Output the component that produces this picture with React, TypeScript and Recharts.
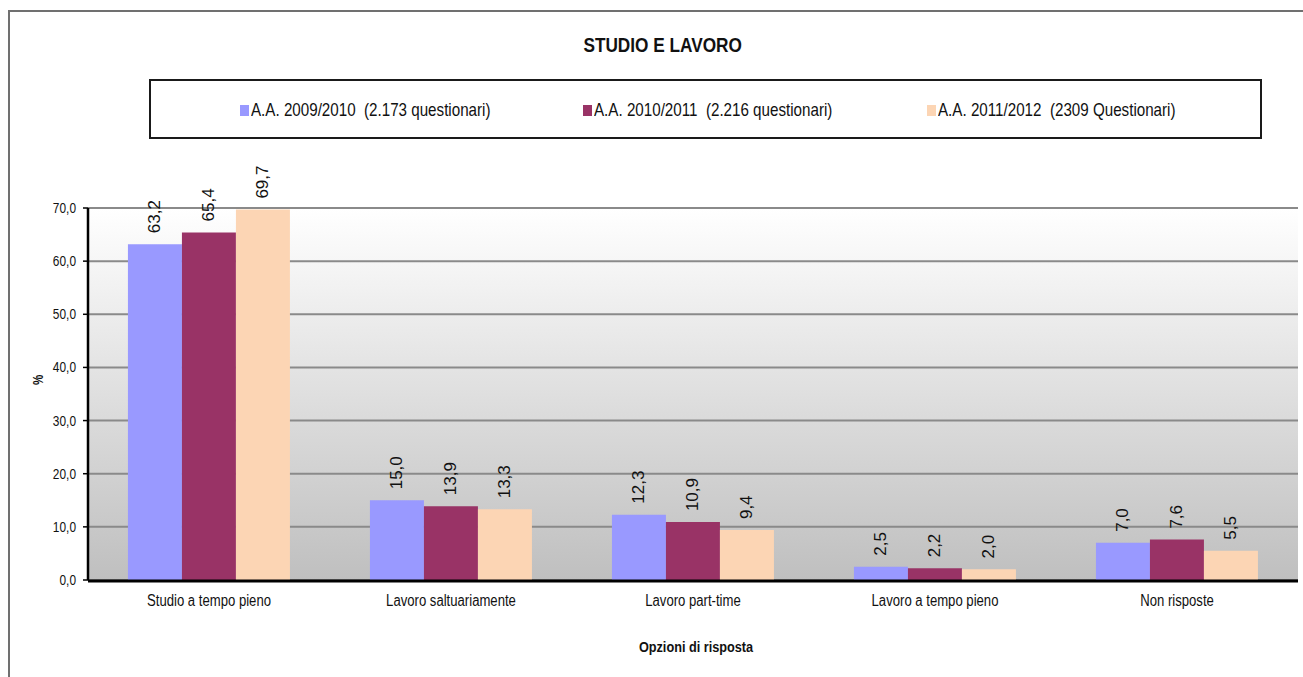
import React from 'react';
import { BarChart, Bar, XAxis, YAxis, CartesianGrid, LabelList, Label } from 'recharts';

const categories = [
  'Studio a tempo pieno',
  'Lavoro saltuariamente',
  'Lavoro part-time',
  'Lavoro a tempo pieno',
  'Non risposte',
];
const series2009 = [63.2, 15.0, 12.3, 2.5, 7.0];
const series2010 = [65.4, 13.9, 10.9, 2.2, 7.6];
const series2011 = [69.7, 13.3, 9.4, 2.0, 5.5];
const seriesKeys = ['s2009', 's2010', 's2011'];
const seriesNames = [
  'A.A. 2009/2010  (2.173 questionari)',
  'A.A. 2010/2011  (2.216 questionari)',
  'A.A. 2011/2012  (2309 Questionari)',
];
const seriesColors = ['#9999FF', '#993366', '#FCD5B4'];
const yTicks = [0, 10, 20, 30, 40, 50, 60, 70];
const boundaryTicks = [0, 1, 2, 3, 4, 5];
const chartTitle = 'STUDIO E LAVORO';
const xTitle = 'Opzioni di risposta';
const yTitle = '%';

const data = categories.map((name, i) => ({
  name,
  s2009: series2009[i],
  s2010: series2010[i],
  s2011: series2011[i],
}));

const FONT = '"Liberation Sans", Arial, sans-serif';
const SQUEEZE = 0.82;
const legendLefts = [240, 583, 927];

const fmt = (v: number) => Number(v).toFixed(1).replace('.', ',');

const NarrowText = ({ x, y, anchor, size, bold, children, rotate }: any) => (
  <text
    transform={`translate(${x}, ${y})${rotate ? ` rotate(${rotate})` : ''} scale(${SQUEEZE}, 1)`}
    x={0}
    y={0}
    textAnchor={anchor}
    fontFamily={FONT}
    fontSize={size}
    fontWeight={bold ? 'bold' : 'normal'}
    fill="#111"
  >
    {children}
  </text>
);

const XTick = (props: any) => {
  const { x, y, payload } = props;
  return (
    <NarrowText x={x} y={y + 11} anchor="middle" size={16}>
      {payload.value}
    </NarrowText>
  );
};

const YTick = (props: any) => {
  const { x, y, payload } = props;
  return (
    <NarrowText x={x} y={y + 5} anchor="end" size={14.5}>
      {fmt(payload.value)}
    </NarrowText>
  );
};

const renderValueLabel = (props: any) => {
  const { x, y, width, value } = props;
  const cx = Number(x) + Number(width) / 2;
  const cy = Number(y) - 11;
  return (
    <text
      x={cx}
      y={cy}
      transform={`rotate(-90, ${cx}, ${cy})`}
      textAnchor="start"
      dominantBaseline="central"
      fontFamily={FONT}
      fontSize={17}
      fill="#111"
    >
      {fmt(value)}
    </text>
  );
};

const renderXTitle = (props: any) => {
  const vb = props.viewBox || {};
  return (
    <NarrowText x={vb.x + vb.width / 2 + 3} y={vb.y + 71} anchor="middle" size={15.5} bold>
      {xTitle}
    </NarrowText>
  );
};

const renderYTitle = (props: any) => {
  const vb = props.viewBox || {};
  return (
    <NarrowText x={vb.x + 15} y={vb.y + vb.height / 2 - 14} anchor="middle" size={14} bold rotate={-90}>
      {yTitle}
    </NarrowText>
  );
};

export default function App() {
  return (
    <div
      style={{
        position: 'absolute',
        left: 0,
        top: 0,
        width: 1303,
        height: 677,
        overflow: 'hidden',
        background: '#fff',
      }}
    >
      <div
        style={{
          position: 'absolute',
          left: 8,
          top: 10,
          width: 1400,
          height: 800,
          borderLeft: '2px solid #707070',
          borderTop: '2px solid #707070',
        }}
      />
      <div style={{ position: 'absolute', left: 0, top: 0 }}>
        <BarChart
          width={1303}
          height={677}
          data={data}
          margin={{ top: 208, right: 5, bottom: 67, left: 28 }}
          barCategoryGap="16.5%"
          barGap={0}
        >
          <defs>
            <linearGradient id="plotBg" x1="0" y1="0" x2="0" y2="1">
              <stop offset="0%" stopColor="#ffffff" />
              <stop offset="100%" stopColor="#bfbfbf" />
            </linearGradient>
          </defs>
          <CartesianGrid
            xAxisId="cat"
            yAxisId="l"
            vertical={false}
            stroke="#8a8a8a"
            strokeWidth={2}
            fill="url(#plotBg)"
            fillOpacity={1}
          />
          <XAxis
            xAxisId="bnd"
            type="number"
            domain={[0, 5]}
            ticks={boundaryTicks}
            allowDataOverflow
            height={1}
            tick={false}
            tickSize={4}
            tickLine={{ stroke: '#333', strokeWidth: 1.5 }}
            axisLine={false}
          />
          <XAxis
            xAxisId="cat"
            dataKey="name"
            height={29}
            tickLine={false}
            tickSize={6}
            tickMargin={8}
            interval={0}
            axisLine={{ stroke: '#000', strokeWidth: 3 }}
            tick={<XTick />}
          >
            <Label content={renderXTitle} />
          </XAxis>
          <YAxis
            yAxisId="l"
            domain={[0, 70]}
            ticks={yTicks}
            width={60}
            tickFormatter={fmt}
            tickSize={5}
            tickMargin={7}
            axisLine={{ stroke: '#000', strokeWidth: 2.5 }}
            tickLine={{ stroke: '#000', strokeWidth: 1.5 }}
            tick={<YTick />}
          >
            <Label content={renderYTitle} />
          </YAxis>
          <YAxis
            yAxisId="r"
            orientation="right"
            domain={[0, 70]}
            width={0}
            tick={false}
            tickLine={false}
            axisLine={{ stroke: '#a0a0a0', strokeWidth: 2 }}
          />
          {seriesKeys.map((k, i) => (
            <Bar
              key={k}
              xAxisId="cat"
              yAxisId="l"
              dataKey={k}
              name={seriesNames[i]}
              fill={seriesColors[i]}
              isAnimationActive={false}
            >
              <LabelList dataKey={k} content={renderValueLabel} />
            </Bar>
          ))}
        </BarChart>
      </div>
      <div
        style={{
          position: 'absolute',
          left: 0,
          top: 32,
          width: 1326,
          textAlign: 'center',
          lineHeight: '26px',
        }}
      >
        <span
          style={{
            display: 'inline-block',
            transform: `scaleX(${SQUEEZE})`,
            transformOrigin: 'center',
            fontFamily: FONT,
            fontWeight: 'bold',
            fontSize: 21,
            color: '#111',
          }}
        >
          {chartTitle}
        </span>
      </div>
      <div
        style={{
          position: 'absolute',
          left: 149,
          top: 79,
          width: 1113,
          height: 60,
          boxSizing: 'border-box',
          border: '2px solid #1a1a1a',
          background: '#fff',
        }}
      />
      {seriesNames.map((n, i) => (
        <div
          key={n}
          style={{
            position: 'absolute',
            left: legendLefts[i],
            top: 99,
            height: 22,
            display: 'flex',
            alignItems: 'center',
            whiteSpace: 'pre',
          }}
        >
          <span
            style={{
              display: 'inline-block',
              width: 9,
              height: 11,
              background: seriesColors[i],
              marginRight: 2,
            }}
          />
          <span
            style={{
              display: 'inline-block',
              transform: `scaleX(${SQUEEZE})`,
              transformOrigin: 'left center',
              fontFamily: FONT,
              fontSize: 18.5,
              color: '#111',
              lineHeight: '22px',
            }}
          >
            {n}
          </span>
        </div>
      ))}
    </div>
  );
}
